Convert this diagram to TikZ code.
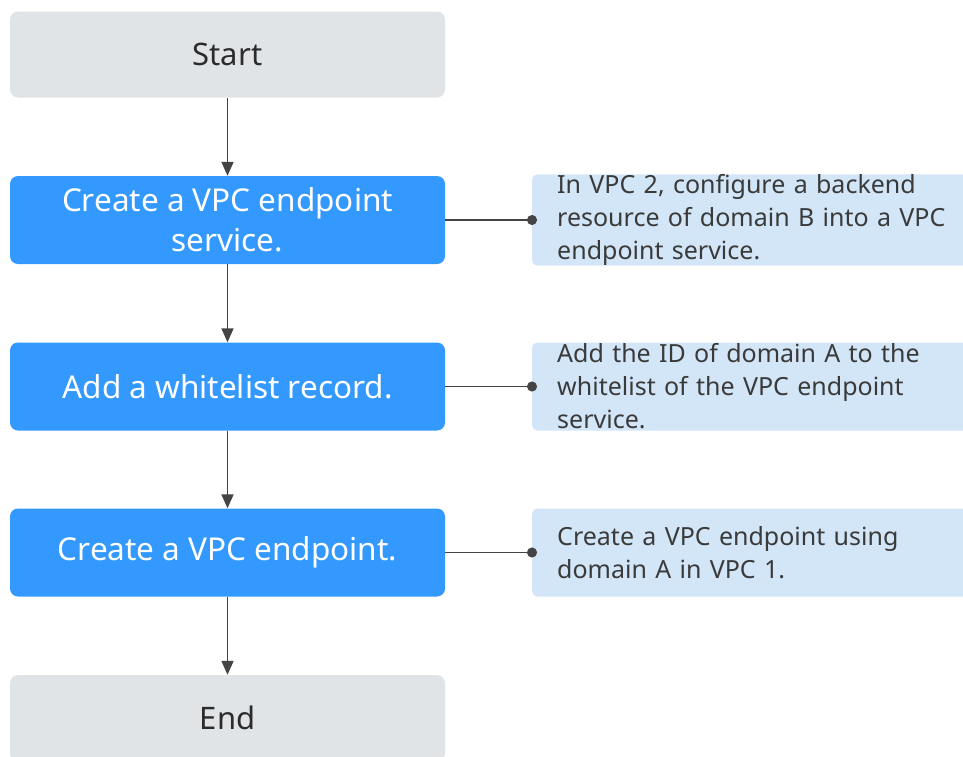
\documentclass[tikz,border=0pt]{standalone}
\usepackage{fontspec}
\setmainfont{Noto Sans}
\usetikzlibrary{arrows.meta}
\definecolor{termgray}{HTML}{E1E4E7}
\definecolor{stepblue}{HTML}{3399FF}
\definecolor{noteblue}{HTML}{D2E6F8}
\definecolor{ink}{HTML}{2B2B2B}
\definecolor{noteink}{HTML}{3A3A3A}
\definecolor{wire}{HTML}{444444}
\begin{document}
\begin{tikzpicture}[x=1pt,y=-1pt,
  terminal/.style={rectangle, rounded corners=8pt, fill=termgray, draw=none,
    minimum width=435pt, minimum height=86pt, inner sep=0pt,
    text=ink, font=\fontsize{31}{40}\selectfont},
  stepbox/.style={rectangle, rounded corners=8pt, fill=stepblue, draw=none,
    minimum width=435pt, minimum height=88pt, inner sep=0pt,
    text=white, align=center, font=\fontsize{31.5}{40}\selectfont},
  notebox/.style={rectangle, rounded corners=5pt, fill=noteblue, draw=none,
    anchor=west, minimum height=88pt, inner xsep=25pt, inner ysep=0pt,
    text width=393pt, align=left, text=noteink,
    font=\fontsize{25}{33}\selectfont},
  flow/.style={draw=wire, line width=1.7pt, -{Triangle[length=14pt,width=12pt]}},
  link/.style={draw=wire, line width=1.7pt, -{Circle[length=10pt]}, shorten >=-5pt}
]
\useasboundingbox (0,0) rectangle (963,756);
\clip (0,0) rectangle (963,756);

% main column
\node[terminal] (start) at (227.5,54.5) {Start};
\node[stepbox]  (svc)   at (227.5,220)  {Create a VPC endpoint\\service.};
\node[stepbox]  (wl)    at (227.5,386.5) {Add a whitelist record.};
\node[stepbox]  (ep)    at (227.5,552.5) {Create a VPC endpoint.};
\node[terminal] (end)   at (227.5,718)  {End};

% notes on the right
\node[notebox] (n1) at (532,220)
  {In VPC 2, configure a backend\\resource of domain B into a VPC\\endpoint service.};
\node[notebox] (n2) at (532,386.5)
  {Add the ID of domain A to the\\whitelist of the VPC endpoint\\service.};
\node[notebox] (n3) at (532,552.5)
  {Create a VPC endpoint using\\domain A in VPC 1.};

% flow arrows
\draw[flow] (start) -- (svc);
\draw[flow] (svc) -- (wl);
\draw[flow] (wl) -- (ep);
\draw[flow] (ep) -- (end);

% links to notes
\draw[link] (svc.east) -- (n1.west);
\draw[link] (wl.east) -- (n2.west);
\draw[link] (ep.east) -- (n3.west);
\end{tikzpicture}
\end{document}
